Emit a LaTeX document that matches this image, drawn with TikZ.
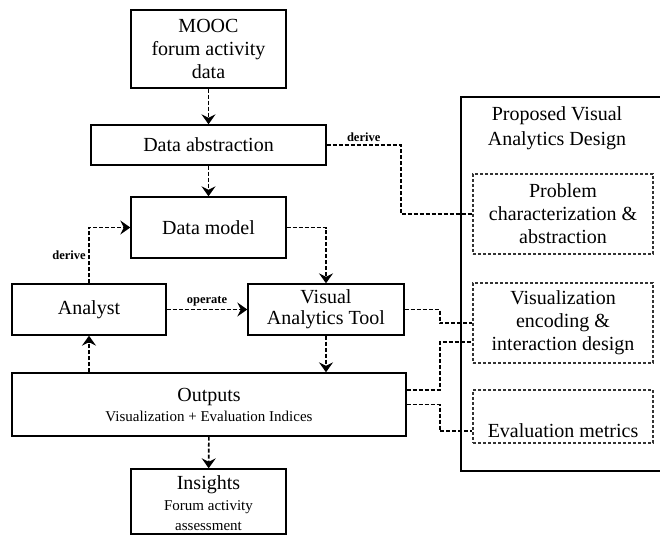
\documentclass[tikz,border=0pt]{standalone}
\usepackage{fontspec}
\setmainfont{Liberation Serif}
\usetikzlibrary{arrows.meta,positioning}

\newcommand{\smalltext}[1]{{\fontsize{15}{18}\selectfont #1}}

\begin{document}
\begin{tikzpicture}[x=1pt, y=-1pt, >={Stealth[length=10pt,width=14pt,inset=3.5pt]},
   box/.style={rectangle, line width=1.4pt, align=center, inner sep=2pt, font=\fontsize{20}{23}\selectfont},
   design/.style={rectangle, dash pattern=on 3pt off 2pt, line width=1.1pt, draw=black!80, align=center,
      minimum width=180, minimum height=80, inner sep=2pt, font=\fontsize{20}{23}\selectfont},
   panelbox/.style={rectangle, line width=1.8pt},
   link/.style={dash pattern=on 4pt off 2pt, line width=1.6pt},
   tag/.style={font=\fontsize{12.5}{14}\selectfont\bfseries, inner sep=2.5pt}]
   \useasboundingbox (0,0) rectangle (660,535);

   \node (mooc) at (208.5,49) [draw, box, minimum width=155, minimum height=78] {MOOC\\forum activity\\data};
   \node (abs) at (208.5,145) [draw, box, minimum width=235, minimum height=40] {Data abstraction};
   \node (model) at (208.5,227.5) [draw, box, minimum width=155, minimum height=61] {Data model};
   \node (analyst) at (89,309.5) [draw, box, minimum width=154, minimum height=51] {Analyst};
   \node (vat) at (326,309.5) [draw, box, minimum width=156, minimum height=51] {Visual\\[-2pt]Analytics Tool};
   \node (outputs) at (209,404.5) [draw, box, minimum width=394, minimum height=63] {Outputs\\[-3pt]\smalltext{Visualization + Evaluation Indices}};
   \node (insights) at (208.5,501.5) [draw, box, minimum width=155, minimum height=65, text height=58pt, text depth=0pt] {Insights\\[-2pt]\smalltext{Forum activity}\\[-3pt]\smalltext{assessment}};

   % proposed design panel
   \node (panel) at (460,96) [draw, panelbox, anchor=north west, minimum width=210, minimum height=374] {};
   \node (title) at (557,128) [box] {Proposed Visual\\[2pt]Analytics Design};
   \node (prob) at (563,214) [draw, design] {Problem\\characterization \&\\abstraction};
   \node (viz) at (563,323) [draw, design] {Visualization\\encoding \&\\interaction design};
   \node (evalm) at (563,416.5) [draw, design, minimum height=53, text height=42pt, text depth=0pt] {Evaluation metrics};

   \draw (mooc)[->, link] -- (abs);
   \draw (abs)[->, link] -- (model);
   \draw (model.east)[->, link] -| (vat.north);
   \draw (analyst.north)[->, link] |- node[tag, left, pos=0.25]{derive} (model.west);
   \draw (analyst)[->, link] -- node[tag, above]{operate} (vat);
   \draw (vat.south)[->, link] -- (vat.south |- outputs.north);
   \draw (outputs.north -| analyst.south)[->, link] -- (analyst.south);
   \draw (outputs)[->, link] -- (insights);

   \draw (abs.east)[link] -- node[tag, above]{derive} ++(74,0) |- (prob.west);
   \draw (vat.east)[link] -- ++(35,0) |- (viz.west);
   \draw ([yshift=14.5pt]outputs.east)[link] -- ++(33,0) |- ([yshift=-19pt]viz.west);
   \draw (outputs.east)[link] -- ++(33,0) |- ([yshift=-14.5pt]evalm.west);

\end{tikzpicture}
\end{document}
